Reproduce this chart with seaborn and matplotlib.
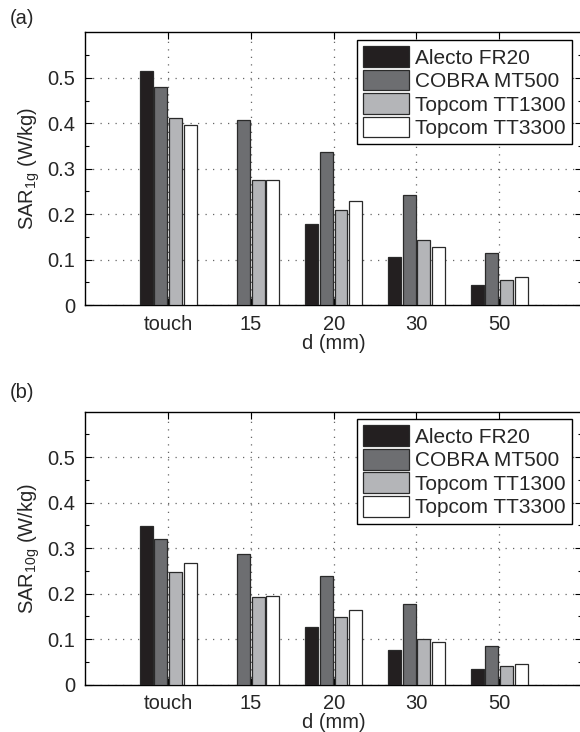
import numpy as np
import pandas as pd
import matplotlib
matplotlib.use("Agg")
import matplotlib.pyplot as plt
import seaborn as sns
from matplotlib.ticker import FixedLocator

# ---------------- data ----------------
distances = ["touch", "15", "20", "30", "50"]
phones = ["Alecto FR20", "COBRA MT500", "Topcom TT1300", "Topcom TT3300"]

sar1g_alecto = [0.515, np.nan, 0.178, 0.105, 0.045]
sar1g_cobra = [0.479, 0.408, 0.337, 0.243, 0.114]
sar1g_tt1300 = [0.411, 0.275, 0.209, 0.143, 0.055]
sar1g_tt3300 = [0.396, 0.275, 0.230, 0.129, 0.061]

sar10g_alecto = [0.349, np.nan, 0.126, 0.075, 0.034]
sar10g_cobra = [0.319, 0.286, 0.239, 0.176, 0.085]
sar10g_tt1300 = [0.247, 0.192, 0.149, 0.101, 0.041]
sar10g_tt3300 = [0.268, 0.194, 0.164, 0.094, 0.046]

ytick_values = [0, 0.1, 0.2, 0.3, 0.4, 0.5]
ytick_labels = ["0", "0.1", "0.2", "0.3", "0.4", "0.5"]

panel_labels = ["(a)", "(b)"]
ylabels = [r"SAR$_{\mathregular{1g}}$ (W/kg)", r"SAR$_{\mathregular{10g}}$ (W/kg)"]
xlabel = "d (mm)"

colors = ["#231f20", "#6d6e71", "#b4b5b8", "#ffffff"]


def make_df(series):
    rows = []
    for phone, vals in zip(phones, series):
        for d, v in zip(distances, vals):
            rows.append({"d": d, "phone": phone, "SAR": v})
    return pd.DataFrame(rows)


df1 = make_df([sar1g_alecto, sar1g_cobra, sar1g_tt1300, sar1g_tt3300])
df10 = make_df([sar10g_alecto, sar10g_cobra, sar10g_tt1300, sar10g_tt3300])

# ---------------- style ----------------
sns.set_style("white")
plt.rcParams["font.family"] = ["Liberation Sans", "DejaVu Sans"]
plt.rcParams["mathtext.fontset"] = "custom"
plt.rcParams["mathtext.rm"] = "Liberation Sans"
FS = 14.5
LFS = 15

W, H = 580, 732
fig = plt.figure(figsize=(W / 100, H / 100), dpi=100)

ax_left = 85.3 / W
ax_width = (582 - 85.3) / W
ax_h = 272.9 / H
axes_pos = [
    [ax_left, 1 - 305.2 / H, ax_width, ax_h],
    [ax_left, 1 - 684.5 / H, ax_width, ax_h],
]
label_y = [18, 393]

for i, (df, pos) in enumerate(zip([df1, df10], axes_pos)):
    ax = fig.add_axes(pos)
    sns.barplot(
        data=df, x="d", y="SAR", hue="phone",
        order=distances, hue_order=phones, palette=colors,
        width=0.71, gap=0.12, errorbar=None,
        edgecolor="#2a2a2a", linewidth=0.9, saturation=1,
        ax=ax, zorder=3,
    )
    ax.set_xlim(-1, 5)
    ax.set_ylim(0, 0.6)
    ax.yaxis.set_major_locator(FixedLocator(ytick_values))
    ax.set_yticklabels(ytick_labels)
    ax.yaxis.set_minor_locator(FixedLocator(np.arange(0.05, 0.6, 0.1)))
    ax.tick_params(axis="both", which="both", direction="in",
                   top=True, right=True, bottom=True, left=True,
                   labelsize=FS, color="black", width=0.8)
    ax.tick_params(which="major", length=5, pad=7)
    ax.tick_params(which="minor", length=3)
    ax.grid(True, which="major", linestyle=(0, (1, 5)), color="#666666",
            linewidth=0.9, zorder=0)
    ax.set_axisbelow(True)
    for s in ax.spines.values():
        s.set_visible(True)
        s.set_color("black")
        s.set_linewidth(1.0)
    ax.set_xlabel(xlabel, fontsize=FS, labelpad=0)
    ax.set_ylabel(ylabels[i], fontsize=FS, labelpad=4)

    leg = ax.legend(loc="upper right", bbox_to_anchor=(0.98, 0.972),
                    borderaxespad=0, fontsize=LFS, frameon=True,
                    fancybox=False, framealpha=1, edgecolor="black",
                    handlelength=2.2, handleheight=1.15, handletextpad=0.3,
                    labelspacing=0.1, borderpad=0.3, title=None)
    leg.get_frame().set_linewidth(1.0)
    leg.set_zorder(10)

    fig.text(10 / W, 1 - label_y[i] / H, panel_labels[i], fontsize=FS,
             va="center", ha="left")

fig.savefig("out.png", dpi=100)
